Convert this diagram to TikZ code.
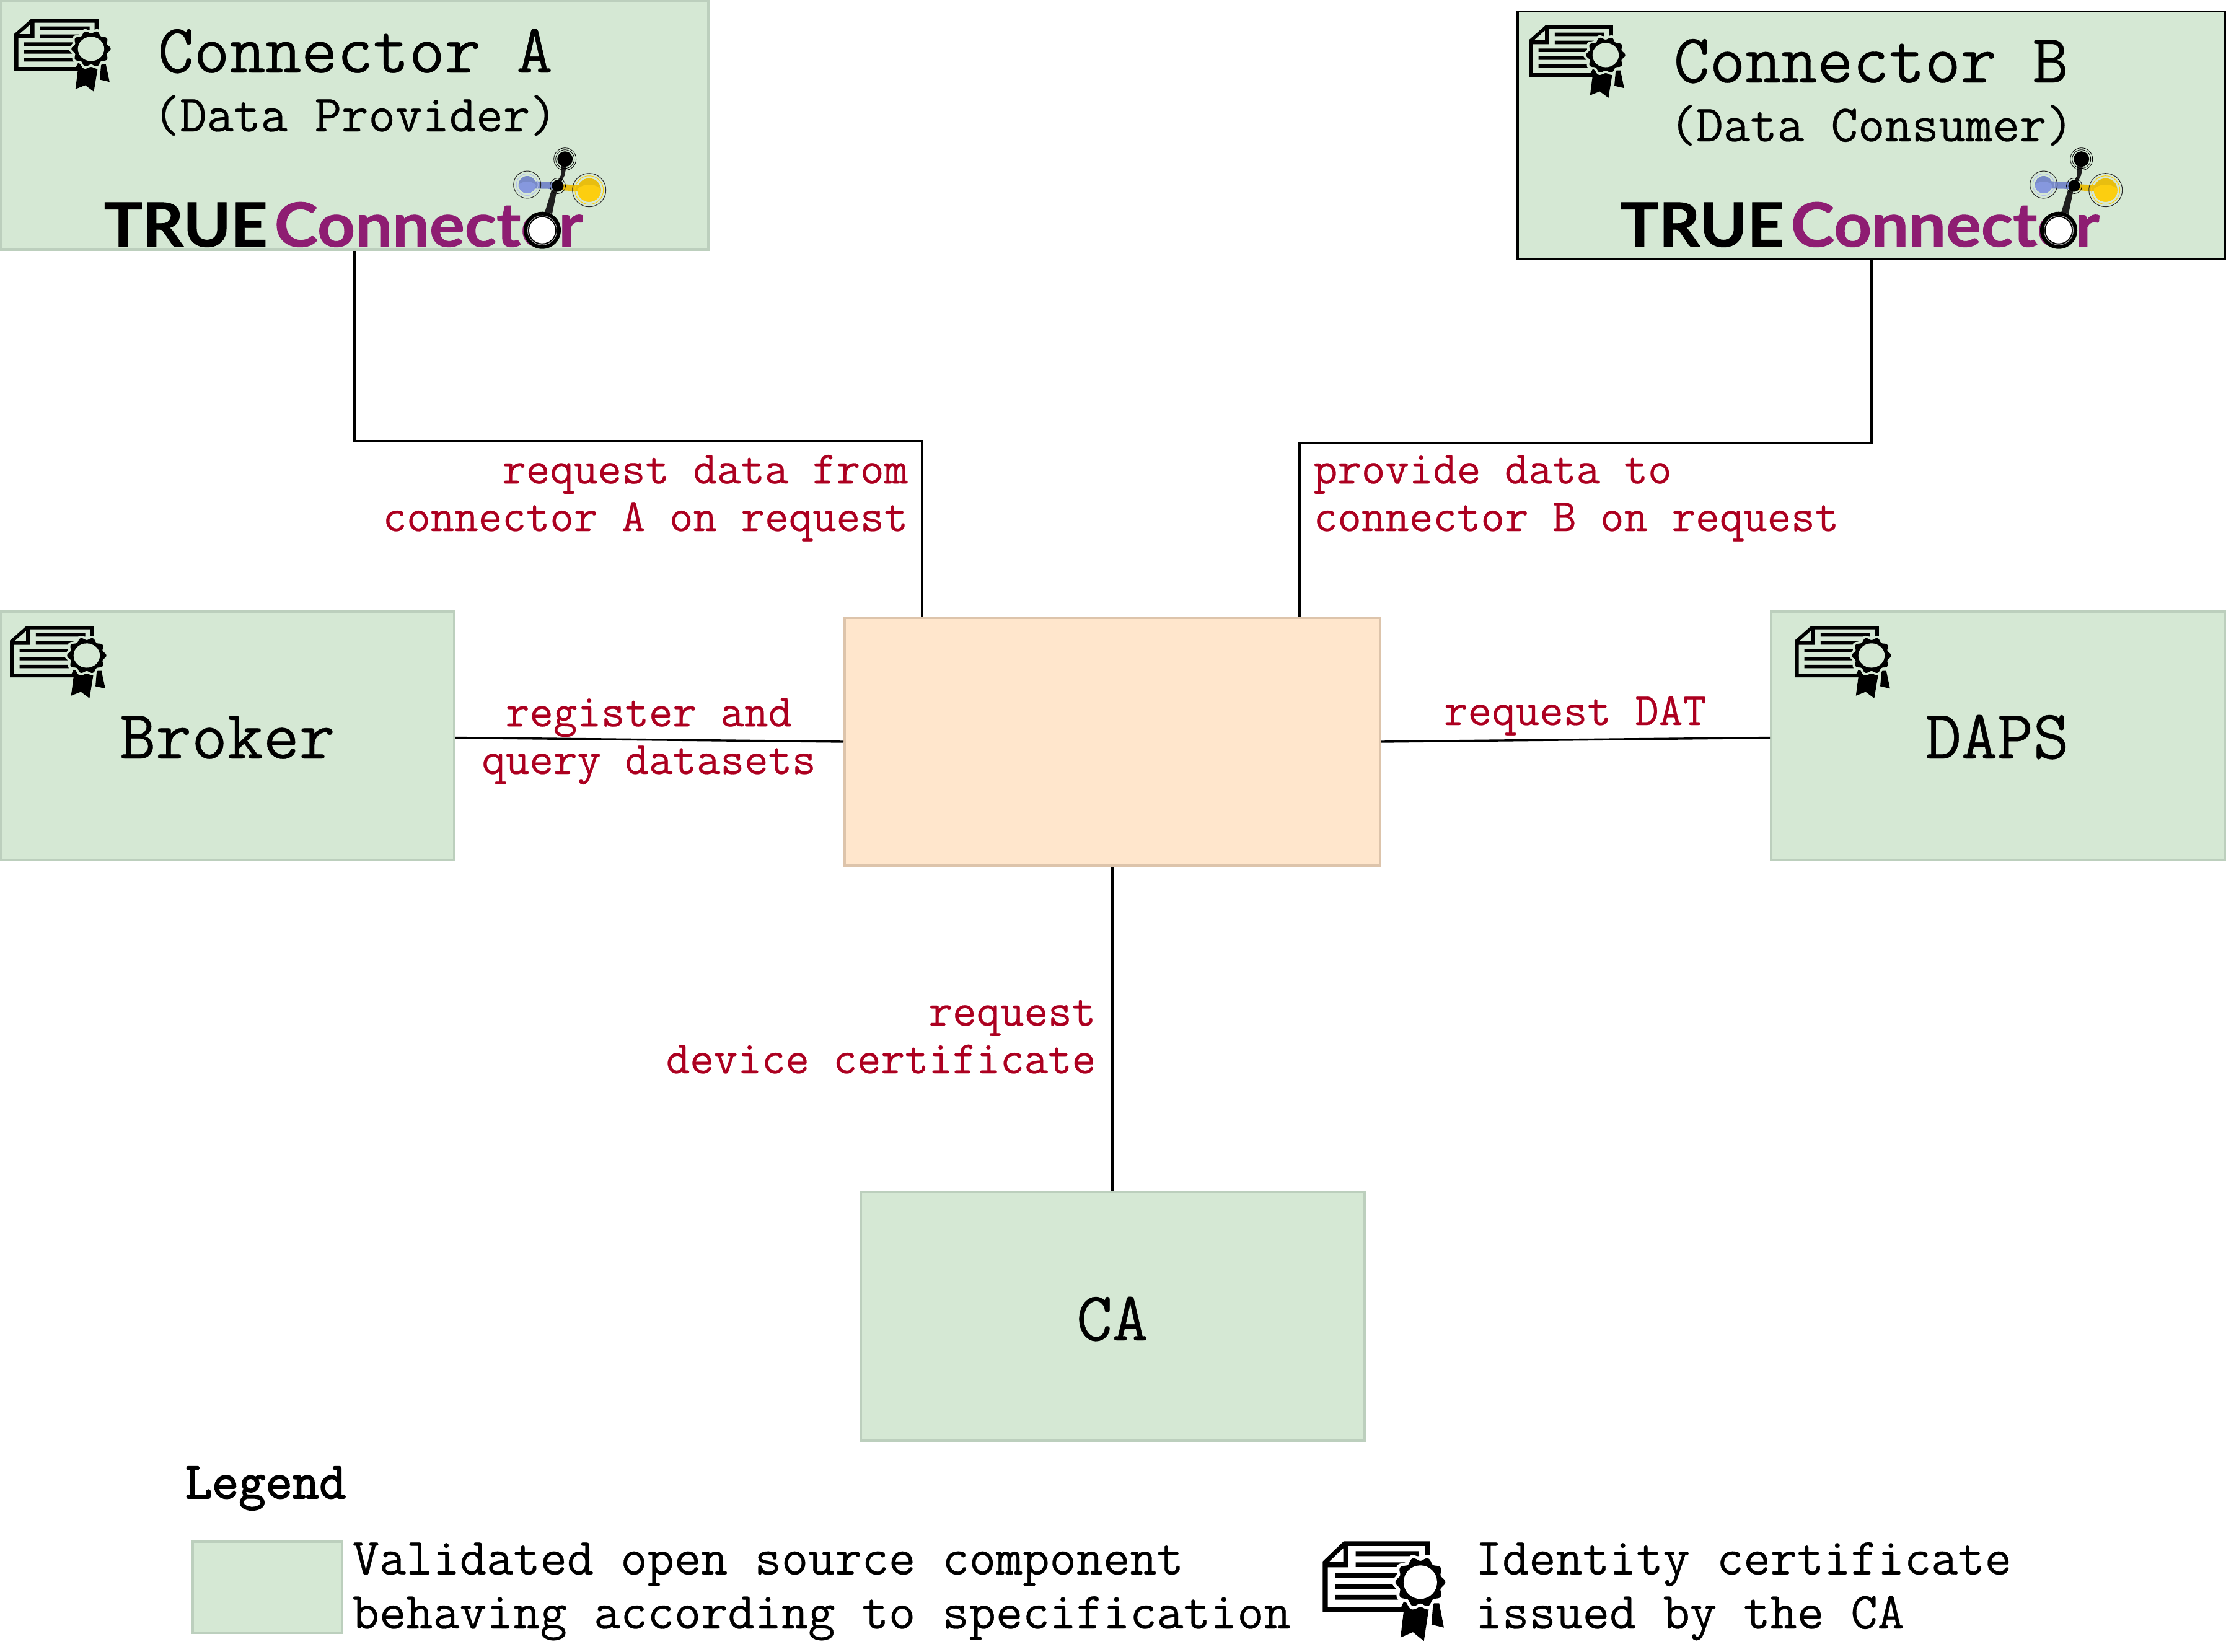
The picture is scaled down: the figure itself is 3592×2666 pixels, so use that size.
\documentclass[tikz,border=0pt]{standalone}
\usepackage{fontspec}
\setmainfont{Lato}
\setmonofont{Latin Modern Mono}[FakeBold=0.35]
\newfontfamily\ttheavy{Latin Modern Mono}[FakeBold=2.2]
\newfontfamily\logofont{Lato}[BoldFeatures={FakeBold=0.9}]
\usetikzlibrary{calc}
\definecolor{boxgreen}{HTML}{D5E8D4}
\definecolor{boxgreenline}{HTML}{BCCFBD}
\definecolor{boxorange}{HTML}{FFE6CC}
\definecolor{boxorangeline}{HTML}{DDC4AB}
\definecolor{labelred}{HTML}{AC0020}
\definecolor{logopurple}{HTML}{8E1D72}
\definecolor{logoblue}{HTML}{8698DE}
\definecolor{logobluedark}{HTML}{788AC8}
\definecolor{logoyellow}{HTML}{FCCE10}
\definecolor{logoyellowdark}{HTML}{E8BE10}
\newcommand\ttsize[2]{\fontsize{#1}{#2}\selectfont\ttfamily}
\tikzset{
  x=0.25pt,y=-0.25pt,
  greenbox/.style={draw=boxgreenline,fill=boxgreen,line width=1pt,inner sep=0pt},
  blackbox/.style={draw=black,fill=boxgreen,line width=0.85pt,inner sep=0pt},
  orangebox/.style={draw=boxorangeline,fill=boxorange,line width=1pt,inner sep=0pt},
  conn/.style={draw=black,line width=0.85pt},
  title/.style={inner sep=0pt,font=\ttsize{28.1}{30}},
  subtitle/.style={inner sep=0pt,font=\ttsize{21.1}{24}},
  lab/.style={inner sep=0pt,text=labelred,font=\ttsize{18.7}{19.2}},
  legendtext/.style={inner sep=0pt,font=\ttsize{21}{21.8}},
  pics/cert/.style={code={
    \fill[black,even odd rule]
      (0,343)--(0,98)--(102,0)--(519,0)--(519,80)--(400,343)--cycle
      (25,319)--(25,126)--(125,126)--(125,23)--(495,23)--(495,80)--(380,319)--cycle
      (30,100)--(100,33)--(100,100)--cycle;
    \fill[black] (160,48) rectangle (464,72) (160,102) rectangle (400,125)
      (60,154) rectangle (360,177) (60,207) rectangle (360,230) (60,260) rectangle (380,283);
    \fill[black] (397,300)--(377,466)--(437,440)--(490,483)--(518,300)--cycle;
    \fill[black] (535,300)--(527,403)--(587,418)--(564,300)--cycle;
    \fill[#1] plot[domain=0:360,samples=120] ({473+(129+9*cos(10*\x))*cos(\x)},{198+(129+9*cos(10*\x))*sin(\x)})--cycle;
    \fill[black] plot[domain=0:360,samples=120] ({473+(112+9*cos(10*\x))*cos(\x)},{198+(112+9*cos(10*\x))*sin(\x)})--cycle;
    \fill[#1] (473,198) circle[radius=81];
  }},
  pics/logo/.style={code={
    \node[inner sep=0pt,anchor=base west,text=black] (tt) at (167,398)
      {\scalebox{1.05}[1]{\logofont\bfseries\fontsize{24.6}{26}\selectfont TRUE}};
    \node[inner sep=0pt,anchor=base west,text=logopurple] (cc) at (442,398)
      {\scalebox{1.08}[1]{\logofont\bfseries\fontsize{24.6}{26}\selectfont Connector}};
    \fill[logobluedark] (851,292)--(896,294)--(896,305)--(851,304)--cycle;
    \fill[logoyellowdark] (905,297)--(950,300)--(950,310)--(905,307)--cycle;
    \fill[black!88] (905,258)--(916,258)--(911,283)--(898,310)--(891,345)--(879,343)--(889,310)--(905,283)--cycle;
    \draw[black,line width=0.2pt] (911.7,256.7) circle[radius=18] (911.7,256.7) circle[radius=15];
    \fill[black] (911.7,256.7) circle[radius=12.5];
    \draw[black!85,line width=0.25pt] (850.7,298) circle[radius=22];
    \draw[logoblue!60,line width=0.25pt] (850.7,298) circle[radius=17.5];
    \fill[logobluedark] (850.7,298) circle[radius=14];
    \begin{scope}
      \clip (850.7,298) circle[radius=14];
      \fill[logoblue] (850.7,306) ellipse[x radius=17,y radius=13];
    \end{scope}
    \draw[black!85,line width=0.25pt] (950.7,306.7) circle[radius=27];
    \draw[logoyellow,line width=0.25pt] (950.7,306.7) circle[radius=23];
    \fill[logoyellowdark] (950.7,306.7) circle[radius=19];
    \begin{scope}
      \clip (950.7,306.7) circle[radius=19];
      \fill[logoyellow] (950.7,316) ellipse[x radius=24,y radius=18];
    \end{scope}
    \fill[black] (900,300) circle[radius=9.5];
    \draw[black,line width=0.2pt] (900,300) circle[radius=12.5];
    \fill[black] (875,371.7) circle[radius=30];
    \draw[black!30,line width=0.25pt] (875,371.7) circle[radius=23.5];
    \fill[white] (875,371.7) circle[radius=21];
  }}
}
\begin{document}
\begin{tikzpicture}
\useasboundingbox (0,0) rectangle (3592,2666);
% boxes
\node[greenbox,minimum width=285.5pt,minimum height=100.5pt] (a) at (572,202) {};
\node[blackbox,minimum width=285.5pt,minimum height=99.75pt] (bb) at (3020,218) {};
\node[greenbox,minimum width=183pt,minimum height=100.25pt] (br) at (367,1187.5) {};
\node[greenbox,minimum width=183pt,minimum height=100.25pt] (da) at (3224,1187.5) {};
\node[orangebox,minimum width=216pt,minimum height=100pt] (m) at (1795,1197) {};
\node[greenbox,minimum width=203.25pt,minimum height=100.25pt] (ca) at (1795,2124.5) {};
\node[greenbox,minimum width=60.25pt,minimum height=36.75pt] (lg) at (431.5,2561.5) {};
% connectors
\coordinate (ja) at (573,712);
\coordinate (jb) at (3019,715);
\coordinate (ma) at ($(m.north west)!0.1458!(m.north east)$);
\coordinate (mb) at ($(m.north west)!0.848!(m.north east)$);
\draw[conn] (a.south) -- (a.south |- ja) -- (ma |- ja) -- (ma);
\draw[conn] (bb.south) -- (bb.south |- jb) -- (mb |- jb) -- (mb);
\draw[conn] (br.east) ++(0,3) coordinate (brc) (brc) -- (m.west);
\draw[conn] (da.west) ++(0,3) coordinate (dac) (m.east) -- (dac);
\draw[conn] (m.south) -- (ca.north);
% titles
\node[title,anchor=base west] (ta) at (254,117) {Connector A};
\node[subtitle,anchor=base west] (sa) at (246,212) {(Data Provider)};
\node[title,anchor=base west] (tb) at (2700,133) {Connector B};
\node[subtitle,anchor=base west] (sb) at (2693,228) {(Data Consumer)};
\node[title,anchor=base] (tbr) at (367,1224) {Broker};
\node[title,anchor=base] (tda) at (3223,1224) {DAPS};
\node[title,anchor=base] (tca) at (1795,2163) {CA};
% logos
\pic (la) at (0,0) {logo};
\pic (lb) at (2447,0) {logo};
% icons
\pic[xscale=0.262,yscale=0.242] at (23,31) {cert=boxgreen};
\pic[xscale=0.262,yscale=0.242] at (2467,41) {cert=boxgreen};
\pic[xscale=0.262,yscale=0.242] at (16,1010) {cert=boxgreen};
\pic[xscale=0.262,yscale=0.242] at (2896,1010) {cert=boxgreen};
\pic[scale=0.3333] at (2134.3,2487.3) {cert=white};
% labels
\node[lab,anchor=base east,align=right] (l1) at (1466,857) {request data from\\connector A on request};
\node[lab,anchor=base west,align=left] (l2) at (2119,857) {provide data to\\connector B on request};
\node[lab,anchor=base,align=center] (l3) at (1047,1249) {register and\\query datasets};
\node[lab,anchor=base] (l4) at (2542,1170) {request DAT};
\node[lab,anchor=base east,align=right] (l5) at (1769,1732) {request\\device certificate};
% legend
\node[inner sep=0pt,anchor=base west,font=\fontsize{21}{24}\selectfont\ttheavy] (lt) at (298,2418) {Legend};
\node[legendtext,anchor=base west,align=left] (lv) at (568,2628) {Validated open source component\\behaving according to specification};
\node[legendtext,anchor=base west,align=left] (li) at (2380,2628) {Identity certificate\\issued by the CA};
\end{tikzpicture}
\end{document}
